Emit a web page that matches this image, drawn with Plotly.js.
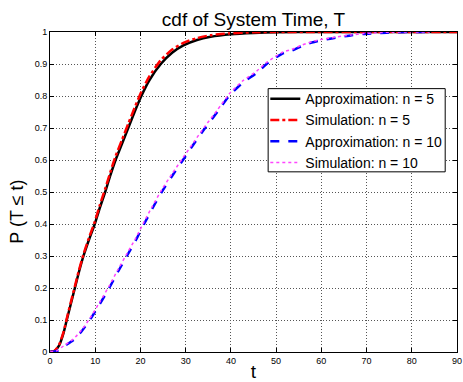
<!DOCTYPE html>
<html>
<head>
<meta charset="utf-8">
<script src="https://cdn.plot.ly/plotly-3.0.1.min.js"></script>
<style>html,body{margin:0;padding:0;background:#fff;}#chart{width:463px;height:382px;}</style>
</head>
<body>
<div id="chart"></div>
<script>
// time grid and cdf values (n = 5)
const t5 = [0,1,2,3,3.7,4.6,5.5,6.4,7.4,8.6,9.9,11,12.2,13.3,14.5,15.9,17.3,18.7,20.2,22,24.5,27,29.5,32.5,35.5,40,45,50,60,70,80,90];
const approx5 = [0,0.003,0.02,0.06,0.1,0.15,0.2,0.25,0.3,0.35,0.4,0.45,0.5,0.55,0.6,0.65,0.7,0.75,0.8,0.85,0.9,0.935,0.958,0.975,0.985,0.993,0.997,0.999,1,1,1,1];
const sim5 = [0,0.004,0.022,0.063,0.104,0.155,0.205,0.255,0.305,0.356,0.407,0.458,0.51,0.56,0.612,0.662,0.713,0.763,0.813,0.862,0.912,0.945,0.966,0.981,0.99,0.996,0.999,1,1,1,1,1];
// time grid and cdf values (n = 10)
const t10 = [0,1.5,3,5.2,7,8.8,11,13.1,15,17,19,20.8,22.7,24.7,27,29.4,31.8,34.3,37,39.6,42.5,45.7,47.9,51.3,53.5,55.7,57.9,60.1,62.3,64.5,66.7,69.3,71.8,74.4,80,84];
const approx10 = [0,0.003,0.017,0.0375,0.065,0.1,0.15,0.2,0.25,0.3,0.35,0.4,0.45,0.5,0.55,0.6,0.65,0.7,0.75,0.8,0.84,0.872,0.9,0.932,0.942,0.956,0.967,0.975,0.98,0.985,0.99,0.994,0.996,0.998,1,1];
const sim10 = [0,0.004,0.019,0.041,0.069,0.105,0.156,0.207,0.257,0.307,0.357,0.407,0.457,0.507,0.557,0.607,0.656,0.706,0.756,0.806,0.846,0.878,0.905,0.936,0.946,0.959,0.97,0.977,0.982,0.987,0.991,0.995,0.997,0.999,1,1];

const xTicks = [0,10,20,30,40,50,60,70,80,90];
const yTicks = [0,0.1,0.2,0.3,0.4,0.5,0.6,0.7,0.8,0.9,1];
const yTickText = ['0','0.1','0.2','0.3','0.4','0.5','0.6','0.7','0.8','0.9','1'];

const FONT = 'Liberation Sans, Arial, Helvetica, sans-serif';

const traces = [
  {x: t5, y: approx5, mode: 'lines', line: {shape: 'spline', smoothing: 0.6, color: '#000000', width: 2.5}, name: 'Approximation: n = 5'},
  {x: t5, y: sim5, mode: 'lines', line: {shape: 'spline', smoothing: 0.6, color: '#ff0000', width: 2.5, dash: 'dashdot'}, name: 'Simulation: n = 5'},
  {x: t10, y: approx10, mode: 'lines', line: {shape: 'spline', smoothing: 0.6, color: '#0000ff', width: 2.5, dash: 'dash'}, name: 'Approximation: n = 10'},
  {x: t10, y: sim10, mode: 'lines', line: {shape: 'spline', smoothing: 0.6, color: '#ff44ff', width: 1.5, dash: 'dot'}, name: 'Simulation: n = 10'}
];

const axisCommon = {
  showline: true, linecolor: '#000', linewidth: 1, mirror: 'ticks',
  ticks: 'inside', ticklen: 4, tickcolor: '#000',
  showgrid: true, gridcolor: '#555', griddash: '1px,2px', gridwidth: 1,
  zeroline: false, tickfont: {family: FONT, size: 9, color: '#000'}
};

const layout = {
  width: 463, height: 382,
  margin: {l: 50, r: 6, t: 32, b: 30},
  paper_bgcolor: '#fff', plot_bgcolor: '#fff',
  font: {family: FONT, color: '#000'},
  title: {text: 'cdf of System Time, T', font: {family: FONT, size: 19, color: '#000'},
          x: 0.5, xref: 'paper', y: 0.95, yref: 'container', yanchor: 'middle'},
  xaxis: Object.assign({}, axisCommon, {range: [0, 90], tickvals: xTicks,
          title: {text: 't', font: {family: FONT, size: 19, color: '#000'}, standoff: 2}}),
  yaxis: Object.assign({}, axisCommon, {range: [0, 1], tickvals: yTicks, ticktext: yTickText}),
  annotations: [{text: 'P (T ≤ t)', textangle: -90, showarrow: false,
                 xref: 'paper', yref: 'paper', x: -0.08, y: 0.44, xanchor: 'center', yanchor: 'middle',
                 font: {family: FONT, size: 18, color: '#000'}}],
  shapes: [{type: 'rect', xref: 'paper', yref: 'paper', x0: 0.536, x1: 0.971, y0: 0.563, y1: 0.823,
            fillcolor: '#fff', line: {color: '#000', width: 1}, layer: 'above'}],
  showlegend: true,
  legend: {x: 0.529, y: 0.84, xanchor: 'left', yanchor: 'top',
           borderwidth: 0, bgcolor: 'rgba(0,0,0,0)',
           font: {family: FONT, size: 14, color: '#000'}, itemwidth: 30, tracegroupgap: 0}
};

Plotly.newPlot('chart', traces, layout, {displayModeBar: false, staticPlot: true});
</script>
</body>
</html>
